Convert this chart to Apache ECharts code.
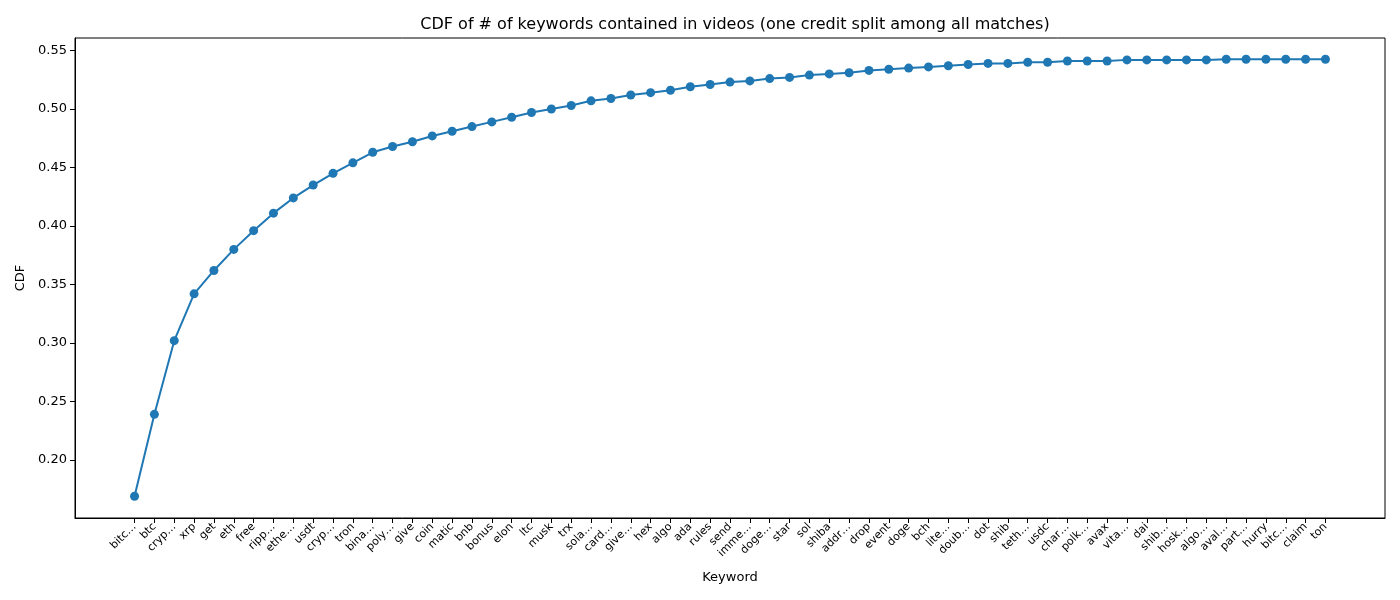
<!DOCTYPE html>
<html>
<head>
<meta charset="utf-8">
<script src="https://cdn.jsdelivr.net/npm/echarts@6/dist/echarts.min.js"></script>
<style>
  html, body { margin: 0; padding: 0; background: #fff; }
  #main { width: 1400px; height: 600px; }
</style>
</head>
<body>
<div id="main"></div>
<script>
var keywords = [
  "bitc…", "btc", "cryp…", "xrp", "get", "eth", "free", "ripp…", "ethe…", "usdt",
  "cryp…", "tron", "bina…", "poly…", "give", "coin", "matic", "bnb", "bonus", "elon",
  "ltc", "musk", "trx", "sola…", "card…", "give…", "hex", "algo", "ada", "rules",
  "send", "imme…", "doge…", "star", "sol", "shiba", "addr…", "drop", "event", "doge",
  "bch", "lite…", "doub…", "dot", "shib", "teth…", "usdc", "char…", "polk…", "avax",
  "vita…", "dai", "shib…", "hosk…", "algo…", "aval…", "part…", "hurry", "bitc…", "claim",
  "ton"
];

var cdfValues = [
  0.169, 0.239, 0.302, 0.342, 0.362, 0.380, 0.396, 0.411, 0.424, 0.435,
  0.445, 0.454, 0.463, 0.468, 0.472, 0.477, 0.481, 0.485, 0.489, 0.493,
  0.497, 0.500, 0.503, 0.507, 0.509, 0.512, 0.514, 0.516, 0.519, 0.521,
  0.523, 0.524, 0.526, 0.527, 0.529, 0.530, 0.531, 0.533, 0.534, 0.535,
  0.536, 0.537, 0.538, 0.539, 0.539, 0.540, 0.540, 0.541, 0.541, 0.541,
  0.542, 0.542, 0.542, 0.542, 0.542, 0.5425, 0.5425, 0.5425, 0.5425, 0.5425,
  0.5425
];

var yTicks = [0.20, 0.25, 0.30, 0.35, 0.40, 0.45, 0.50, 0.55];

var xTicks = keywords.map(function (k, i) { return i; });
var points = cdfValues.map(function (v, i) { return [i, v]; });

var myChart = echarts.init(document.getElementById("main"));

var option = {
  animation: false,
  backgroundColor: "#fff",
  textStyle: { fontFamily: "DejaVu Sans" },
  title: {
    text: "CDF of # of keywords contained in videos (one credit split among all matches)",
    left: 730,
    top: 12,
    textAlign: "center",
    textStyle: { fontSize: 16, fontWeight: "normal", color: "#000", fontFamily: "DejaVu Sans" }
  },
  grid: {
    left: 75,
    right: 15,
    top: 38,
    bottom: 82,
    show: true,
    borderColor: "#000",
    borderWidth: 1,
    backgroundColor: "transparent"
  },
  xAxis: {
    type: "value",
    min: -3,
    max: 63,
    name: "Keyword",
    nameLocation: "middle",
    nameGap: 53,
    nameTextStyle: { fontSize: 13, color: "#000" },
    axisLine: { show: true, onZero: false, lineStyle: { color: "#000", width: 1 } },
    axisTick: { show: true, customValues: xTicks, length: 5, lineStyle: { color: "#000" } },
    axisLabel: {
      customValues: xTicks,
      rotate: 45,
      fontSize: 11,
      color: "#000",
      margin: 7,
      formatter: function (value) {
        return keywords[Math.round(value)] || "";
      }
    },
    splitLine: { show: false }
  },
  yAxis: {
    type: "value",
    min: 0.1504,
    max: 0.5607,
    name: "CDF",
    nameLocation: "middle",
    nameGap: 47,
    nameRotate: 90,
    nameTextStyle: { fontSize: 13, color: "#000" },
    axisLine: { show: true, onZero: false, lineStyle: { color: "#000", width: 1 } },
    axisTick: { show: true, customValues: yTicks, length: 5, lineStyle: { color: "#000" } },
    axisLabel: {
      customValues: yTicks,
      fontSize: 13,
      color: "#000",
      margin: 8,
      formatter: function (value) {
        return value.toFixed(2);
      }
    },
    splitLine: { show: false }
  },
  series: [
    {
      type: "line",
      data: points,
      symbol: "circle",
      symbolSize: 9,
      lineStyle: { color: "#1f77b4", width: 2 },
      itemStyle: { color: "#1f77b4" }
    }
  ]
};

myChart.setOption(option);
</script>
</body>
</html>
